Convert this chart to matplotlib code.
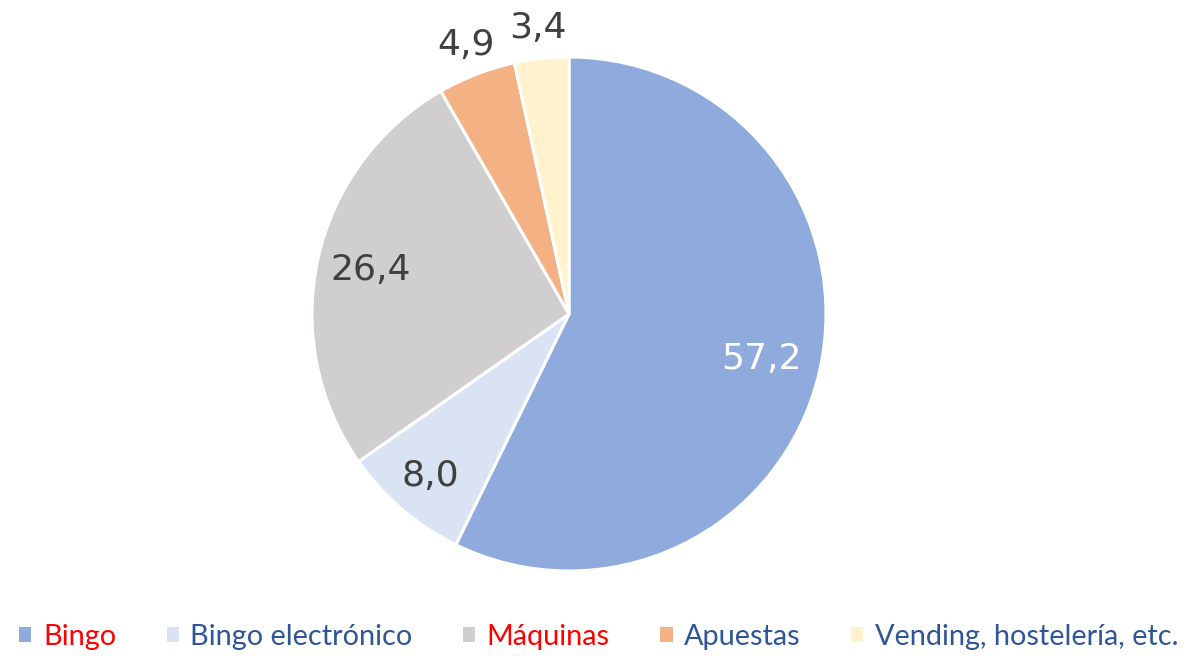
import numpy as np
import matplotlib.pyplot as plt
from matplotlib.patches import Patch

# ---------------------------------------------------------------------------
# data
# ---------------------------------------------------------------------------
categories = ["Bingo", "Bingo electrónico", "Máquinas", "Apuestas",
              "Vending, hostelería, etc."]
values = [57.2, 8.0, 26.4, 4.9, 3.4]
value_labels = ["57,2", "8,0", "26,4", "4,9", "3,4"]

colors = ["#8FAADC", "#DAE3F3", "#D0CECE", "#F4B183", "#FFF2CC"]
label_colors = ["white", "#404040", "#404040", "#404040", "#404040"]
label_dist = [0.77, 0.83, 0.79, 1.12, 1.12]
legend_text_colors = ["#FF0000", "#2F5597", "#FF0000", "#2F5597", "#2F5597"]

W, H = 1193, 656
fig = plt.figure(figsize=(W / 100, H / 100), dpi=100)

cx, cy, r = 569, 314, 257
ax = fig.add_axes([(cx - r) / W, (H - cy - r) / H, 2 * r / W, 2 * r / H])
wedges, _ = ax.pie(values, colors=colors, startangle=90, counterclock=False,
                   radius=1.0,
                   wedgeprops={"edgecolor": "white", "linewidth": 2.2})
ax.set_xlim(-1, 1)
ax.set_ylim(-1, 1)
ax.set_aspect("equal")
ax.axis("off")

for w, lbl, d, c in zip(wedges, value_labels, label_dist, label_colors):
    ang = np.deg2rad((w.theta1 + w.theta2) / 2)
    ax.text(d * np.cos(ang), d * np.sin(ang), lbl, ha="center", va="center",
            fontsize=26, color=c, family="DejaVu Sans", clip_on=False)

handles = [Patch(facecolor=c, edgecolor="none") for c in colors]
leg = fig.legend(handles, categories, loc="lower center", ncol=5,
                 bbox_to_anchor=(0.502, -0.022), frameon=False,
                 prop={"family": "Lato", "size": 20.8},
                 handlelength=0.42, handleheight=0.42, handletextpad=0.4,
                 columnspacing=1.75, borderaxespad=0.3)
for t, c in zip(leg.get_texts(), legend_text_colors):
    t.set_color(c)

fig.savefig("out.png", dpi=100)
